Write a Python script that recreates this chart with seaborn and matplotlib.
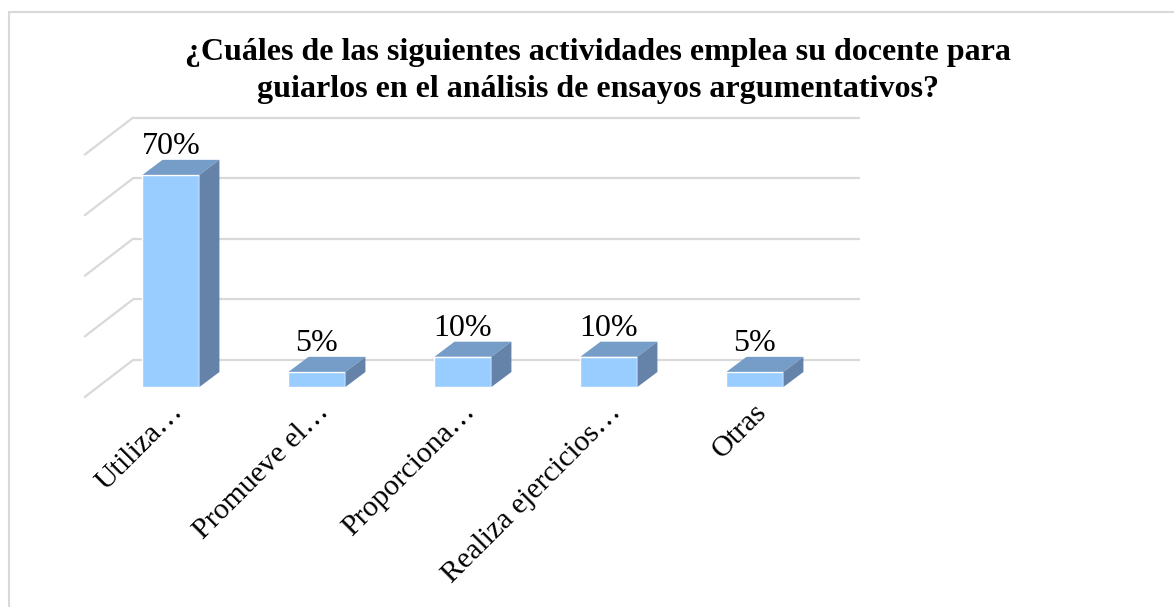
import numpy as np
import pandas as pd
import seaborn as sns
import matplotlib.pyplot as plt
import matplotlib.transforms as mtransforms
from matplotlib.patches import Polygon, Rectangle

categories = ['Utiliza…', 'Promueve el…', 'Proporciona…', 'Realiza ejercicios…', 'Otras']
values = [70, 5, 10, 10, 5]
labels = ['70%', '5%', '10%', '10%', '5%']
grid_levels = [0, 20, 40, 60, 80]

df = pd.DataFrame({'actividad': categories, 'porcentaje': values})

sns.set_style('white')
plt.rcParams['font.family'] = ['Liberation Serif', 'DejaVu Serif']
plt.rcParams['text.color'] = 'black'
plt.rcParams['xtick.color'] = 'black'

W, H = 1174, 607
fig = plt.figure(figsize=(W / 100, H / 100), dpi=100)
# axes placed in pixel terms: x px = 171 + 146*x, y px = 387 - 3.03*y
ax = fig.add_axes([80 / W, 1 - 397 / H, 790 / W, 297 / H])

front = '#99ccff'
top_c = '#759dc8'
side_c = '#6583a8'
grid_c = '#d9d9d9'

sns.barplot(data=df, x='actividad', y='porcentaje', color=front, saturation=1,
            width=0.39, ax=ax, zorder=3)

ax.set_xlim(-0.623, 4.788)
ax.set_ylim(-3.3, 94.7)

# 3D walls: back gridlines and left wall diagonals
wall_dx, wall_dy = 0.33, 12.2
front_y0 = -3.3
for g in grid_levels:
    yb = front_y0 + wall_dy + g
    ax.plot([-0.59 + wall_dx, 4.72], [yb, yb], color=grid_c, lw=1.6, zorder=0,
            solid_capstyle='butt')
    ax.plot([-0.59, -0.59 + wall_dx], [front_y0 + g, yb], color=grid_c, lw=1.6,
            zorder=0, clip_on=False)

# 3D bar faces
dx, dy = 0.137, 4.95
for p, lab in zip(list(ax.patches), labels):
    x0, w, h = p.get_x(), p.get_width(), p.get_height()
    ax.add_patch(Polygon([(x0, h), (x0 + w, h), (x0 + w + dx, h + dy), (x0 + dx, h + dy)],
                         closed=True, facecolor=top_c, edgecolor='none', zorder=3))
    ax.add_patch(Polygon([(x0 + w, 0), (x0 + w + dx, dy), (x0 + w + dx, h + dy), (x0 + w, h)],
                         closed=True, facecolor=side_c, edgecolor='none', zorder=3))
    ax.text(x0 + w / 2, h + dy - 0.5, lab, ha='center', va='bottom', fontsize=23,
            color='black', clip_on=False)

for s in ax.spines.values():
    s.set_visible(False)
ax.set_xlabel('')
ax.set_ylabel('')
ax.set_yticks([])
ax.set_xticks(range(len(categories)))
ax.set_xticklabels(categories, rotation=45, ha='right', rotation_mode='anchor',
                   fontsize=21.5, va='center', color='black')
ax.tick_params(axis='x', length=0, pad=8)
offset = mtransforms.ScaledTranslation(8 / 100, 0, fig.dpi_scale_trans)
for t in ax.get_xticklabels():
    t.set_transform(t.get_transform() + offset)

fig.text(598 / W, 1 - 71 / H,
         '¿Cuáles de las siguientes actividades emplea su docente para\n'
         'guiarlos en el análisis de ensayos argumentativos?',
         ha='center', va='center', fontsize=23, fontweight='bold', linespacing=1.38,
         color='black')

fig.add_artist(Rectangle((8.5 / W, -0.1), 2, (H - 11.5) / H + 0.1,
                         transform=fig.transFigure, fill=False,
                         edgecolor=grid_c, lw=1.5))

fig.savefig('out.png', dpi=100)
